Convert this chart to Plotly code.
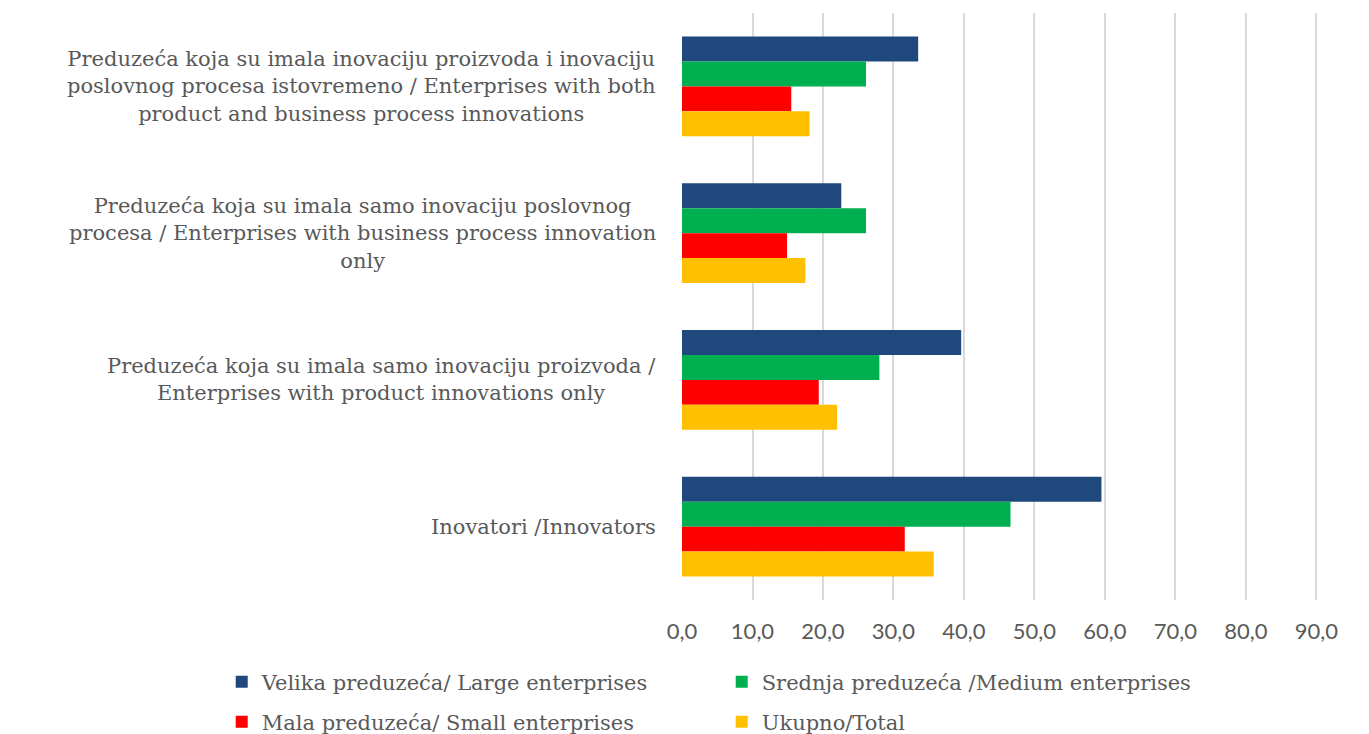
import plotly.graph_objects as go

categories = [
    "Preduzeća koja su imala inovaciju proizvoda i inovaciju<br>poslovnog procesa istovremeno / Enterprises with both<br>product and business process innovations",
    "Preduzeća koja su imala samo inovaciju poslovnog<br>procesa / Enterprises with business process innovation<br>only",
    "Preduzeća koja su imala samo inovaciju proizvoda /<br>Enterprises with product innovations only",
    "Inovatori /Innovators",
]
large = [33.5, 22.6, 39.6, 59.5]
medium = [26.1, 26.1, 28.0, 46.6]
small = [15.5, 14.9, 19.4, 31.6]
total = [18.1, 17.5, 22.0, 35.7]

series_names = [
    "Velika preduzeća/ Large enterprises",
    "Srednja preduzeća /Medium enterprises",
    "Mala preduzeća/ Small enterprises",
    "Ukupno/Total",
]
series_values = [large, medium, small, total]
colors = ["#1F497D", "#00B050", "#FF0000", "#FFC000"]
legend_ids = ["legend", "legend", "legend2", "legend2"]
x_ticks = [0, 10, 20, 30, 40, 50, 60, 70, 80, 90, 100]

SERIF = "DejaVu Serif"
GRAY = "#595959"

fig = go.Figure()
for name, vals, col, lg in zip(series_names, series_values, colors, legend_ids):
    fig.add_trace(go.Bar(
        y=categories, x=vals, name=name, orientation="h",
        marker=dict(color=col, line=dict(width=0)),
        legend=lg,
    ))

for cat in categories:
    fig.add_annotation(
        x=0, xref="paper", y=cat, yref="y",
        text=cat, showarrow=False, xanchor="right", yanchor="middle",
        align="center", xshift=-24,
        font=dict(family=SERIF, size=21, color=GRAY),
    )

legend_style = dict(
    orientation="h", xanchor="left", yanchor="middle",
    font=dict(family=SERIF, size=21, color=GRAY),
    entrywidth=455, entrywidthmode="pixels",
    bgcolor="rgba(0,0,0,0)", itemclick=False,
)

fig.update_layout(
    width=1361, height=726,
    margin=dict(l=674, r=0, t=5, b=134, autoexpand=False),
    plot_bgcolor="white", paper_bgcolor="white",
    barmode="group", bargap=0.32, bargroupgap=0,
    separators=",.",
    showlegend=True,
    legend=dict(x=-0.67, y=-0.14, **legend_style),
    legend2=dict(x=-0.67, y=-0.208, **legend_style),
    xaxis=dict(
        range=[0, 97.45], tickvals=x_ticks, tickformat=".1f",
        showgrid=True, gridcolor="#D9D9D9", gridwidth=2,
        zeroline=False, showline=False, automargin=False,
        ticks="", ticklabelstandoff=16,
        tickfont=dict(family="Lato", size=22, color=GRAY),
    ),
    yaxis=dict(
        autorange="reversed", showticklabels=False, automargin=False,
        showgrid=False, zeroline=False, showline=False, ticks="",
    ),
)

fig.write_html("out.html")
